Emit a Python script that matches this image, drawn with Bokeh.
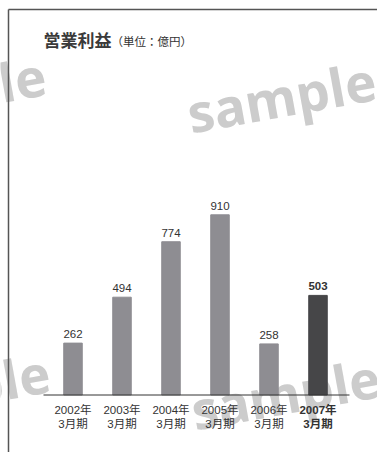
from bokeh.plotting import figure
from bokeh.models import ColumnDataSource, Range1d
from bokeh.core.properties import value, field
from bokeh.embed import file_html
from bokeh.resources import INLINE

# Operating profit by fiscal year (unit: 100 million yen)
years = ["2002年", "2003年", "2004年", "2005年", "2006年", "2007年"]
periods = ["3月期", "3月期", "3月期", "3月期", "3月期", "3月期"]
profits = [262, 494, 774, 910, 258, 503]
title_main = "営業利益"
title_unit = "（単位：億円）"

W, H = 377, 452

# Layout in screen pixels
X0 = 72.5        # centre of the first bar
DX = 49.0        # distance between bar centres
BASE = 394.5     # baseline, pixels from the top
PPU = 0.198      # pixels per 100 million yen


def px_x(px):
    return (px - X0) / DX


def px_y(py):
    return (BASE - py) / PPU


p = figure(width=W, height=H, output_backend="svg", toolbar_location=None,
           x_axis_type=None, y_axis_type=None, min_border=0,
           x_range=Range1d(px_x(0), px_x(W)), y_range=Range1d(px_y(H), px_y(0)))
p.outline_line_color = None
p.background_fill_color = "white"
p.border_fill_color = "white"
p.grid.visible = False

# Watermark
wm = ColumnDataSource(dict(
    x=[px_x(187), px_x(-143), px_x(191), px_x(-139)],
    y=[px_y(113), px_y(108), px_y(410), px_y(405)],
    t=["sample"] * 4,
))
p.text(x="x", y="y", text="t", source=wm, angle=0.18,
       text_font=value("Noto Sans"), text_font_style="bold",
       text_font_size="53px", text_color="#cccccc",
       text_align="left", text_baseline="alphabetic")

n = len(profits)
idx = list(range(n))
is_last = [i == n - 1 for i in idx]
src = ColumnDataSource(dict(
    x=idx,
    top=profits,
    label=[str(v) for v in profits],
    year=years,
    period=periods,
    color=["#464648" if last else "#8e8d92" for last in is_last],
    style=["bold" if last else "normal" for last in is_last],
))

p.vbar(x="x", top="top", bottom=0, width=0.378, color="color", source=src)

# Baseline
p.segment(x0=[px_x(43)], y0=[0], x1=[px_x(349)], y1=[0],
          line_color="#333333", line_width=1)

# Value labels
p.text(x="x", y="top", text="label", source=src, y_offset=-5,
       text_align="center", text_baseline="bottom",
       text_font=value("Liberation Sans"), text_font_size="11.5px",
       text_font_style=field("style"), text_color="#333333")

# Category labels
p.text(x="x", y=0, text="year", source=src, y_offset=9,
       text_align="center", text_baseline="top",
       text_font=value("Liberation Sans, Noto Sans CJK JP"), text_font_size="11.5px",
       text_font_style=field("style"), text_color="#333333")
p.text(x="x", y=0, text="period", source=src, y_offset=23,
       text_align="center", text_baseline="top",
       text_font=value("Liberation Sans, Noto Sans CJK JP"), text_font_size="11.5px",
       text_font_style=field("style"), text_color="#333333")

# Title
p.text(x=[px_x(43)], y=[px_y(39)], text=[title_main],
       text_font=value("Noto Sans CJK JP"), text_font_style="bold",
       text_font_size="17px", text_color="#3a3a3a",
       text_align="left", text_baseline="middle")
p.text(x=[px_x(111)], y=[px_y(40)], text=[title_unit],
       text_font=value("Noto Sans CJK JP"),
       text_font_size="11.5px", text_color="#333333",
       text_align="left", text_baseline="middle")

# Frame on the top and left edges
p.segment(x0=[px_x(8), px_x(8)], y0=[px_y(9), px_y(9)],
          x1=[px_x(W), px_x(8)], y1=[px_y(9), px_y(H)],
          line_color="#555555", line_width=1.5)

open("out.html", "w").write(file_html(p, INLINE))
